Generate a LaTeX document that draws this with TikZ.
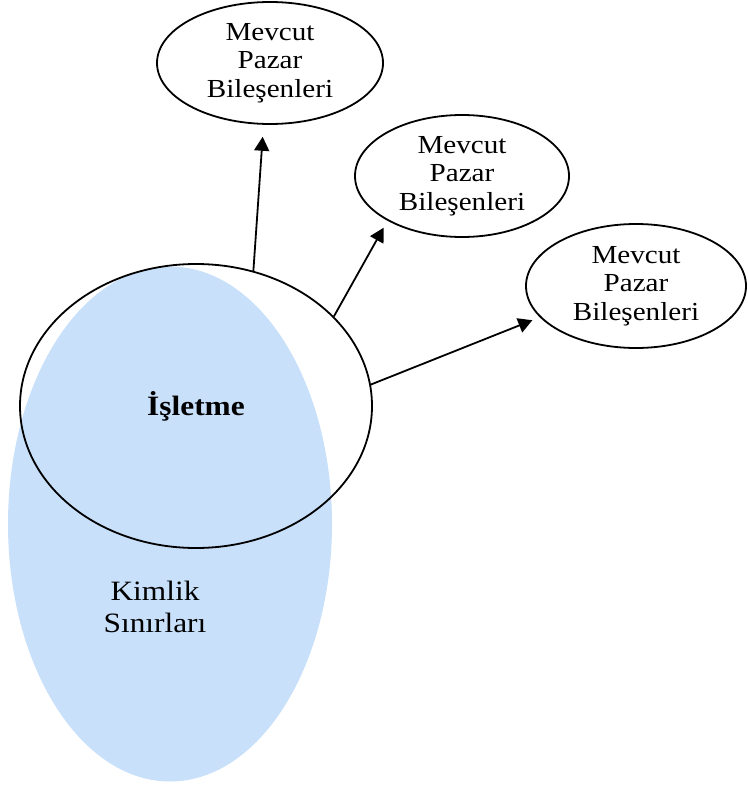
\documentclass[tikz,border=0pt]{standalone}
\usepackage{fontspec}
\setmainfont{Liberation Serif}[FakeStretch=1.12]
\usetikzlibrary{shapes.geometric,arrows.meta}
\definecolor{kimlikblue}{RGB}{200,224,250}

\begin{document}
\begin{tikzpicture}[x=1pt,y=-1pt,
  mkt/.style={draw,ellipse,line width=1.8pt,inner sep=0pt,align=center,
    font=\fontsize{26}{28.5}\selectfont},
  arr/.style={-{Triangle[length=14pt,width=15pt]},line width=1.8pt}]
  \useasboundingbox (0,0) rectangle (747,787);
  % Identity boundary
  \node[ellipse,fill=kimlikblue,minimum width=324pt,minimum height=515pt] (kimlik) at (170,524) {};
  \node[align=center,font=\fontsize{28}{32}\selectfont] (kimlikText) at (155,607) {Kimlik\\Sınırları};
  % Firm
  \node[draw,ellipse,line width=1.8pt,minimum width=352pt,minimum height=284pt,
    font=\fontsize{28}{28}\selectfont\bfseries] (firm) at (196,406) {İşletme};
  % Market components
  \node[mkt,minimum width=226pt,minimum height=122pt] (mkt1) at (270,63) {Mevcut\\Pazar\\Bileşenleri};
  \node[mkt,minimum width=214pt,minimum height=122pt] (mkt2) at (462,176) {Mevcut\\Pazar\\Bileşenleri};
  \node[mkt,minimum width=220pt,minimum height=124pt] (mkt3) at (636,286) {Mevcut\\Pazar\\Bileşenleri};
  % Arrows
  \draw[arr,shorten >=12pt] (firm.67) -- (mkt1.264);
  \draw[arr,shorten >=8pt] (firm.33) -- (mkt2.211);
  \draw[arr,shorten >=8pt] (firm.7) -- (mkt3.198);
\end{tikzpicture}
\end{document}
